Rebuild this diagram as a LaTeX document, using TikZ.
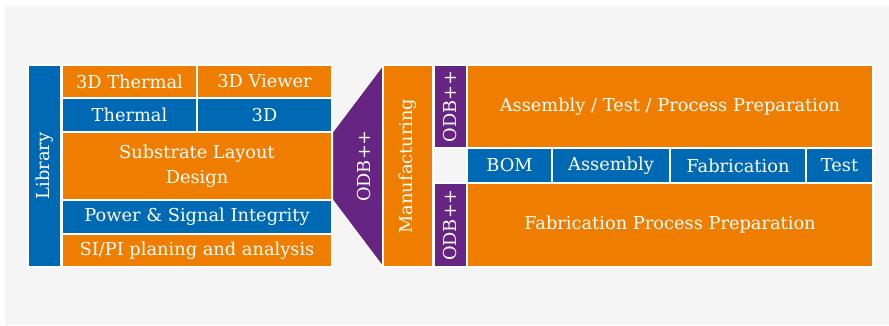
\documentclass[tikz,border=0pt]{standalone}
\usepackage{fontspec}
\setmainfont{DejaVu Serif}
\definecolor{bggray}{HTML}{F5F5F5}
\definecolor{brandorange}{HTML}{EF7D00}
\definecolor{brandblue}{HTML}{0069B4}
\definecolor{brandpurple}{HTML}{662483}
\begin{document}
\begin{tikzpicture}[x=1pt,y=-1pt,
  lbl/.style={text=white, font=\fontsize{17.8}{25}\selectfont},
  cell/.style={lbl, draw=white, line width=1.2pt, inner sep=0pt, outer sep=0pt,
    align=center, anchor=north west},
  og/.style={cell, fill=brandorange},
  bl/.style={cell, fill=brandblue},
  pu/.style={cell, fill=brandpurple},
  vlbl/.style={lbl, rotate=90}]
% canvas
\useasboundingbox (0,0) rectangle (889,325);
\fill[white] (0,0) rectangle (889,325);
\fill[bggray] (5,6) rectangle (889,325);

% library bar
\node[bl, minimum width=33pt, minimum height=202pt] (lib) at (28,65) {};
\node[vlbl] (libtxt) at (lib.center) {Library};

% design tools column
\node[og, minimum width=135pt, minimum height=33pt] (therm3d) at (62,65) {3D Thermal};
\node[og, minimum width=135pt, minimum height=33pt] (view3d) at (197,65) {3D Viewer};
\node[bl, minimum width=135pt, minimum height=34pt] (therm) at (62,98) {Thermal};
\node[bl, minimum width=135pt, minimum height=34pt] (threed) at (197,98) {3D};
\node[og, minimum width=270pt, minimum height=68pt] (subst) at (62,132) {Substrate Layout\\Design};
\node[bl, minimum width=270pt, minimum height=34pt] (psi) at (62,200) {Power \& Signal Integrity};
\node[og, minimum width=270pt, minimum height=33pt] (sipi) at (62,234) {SI/PI planing and analysis};

% ODB++ hand-off funnel
\filldraw[fill=brandpurple, draw=white, line width=1.2pt]
  (332.5,132) -- (383,65) -- (383,267) -- (332.5,200) -- cycle;
\node[vlbl] (odbmain) at (364,166) {ODB++};

% manufacturing
\node[og, minimum width=50pt, minimum height=202pt] (manu) at (383,65) {};
\node[vlbl] (manutxt) at (manu.center) {Manufacturing};

\node[pu, minimum width=33pt, minimum height=83pt] (odbtop) at (434,65) {};
\node[vlbl] (odbtoptxt) at (odbtop.center) {ODB++};
\node[pu, minimum width=33pt, minimum height=84pt] (odbbot) at (434,183) {};
\node[vlbl] (odbbottxt) at (odbbot.center) {ODB++};

\node[og, minimum width=406pt, minimum height=83pt] (asm) at (467,65) {Assembly / Test / Process Preparation};
\node[bl, minimum width=85pt, minimum height=35pt] (bom) at (467,148) {BOM};
\node[bl, minimum width=118pt, minimum height=35pt] (assy) at (552,148) {Assembly};
\node[bl, minimum width=136pt, minimum height=35pt] (fab) at (670,148) {Fabrication};
\node[bl, minimum width=67pt, minimum height=35pt] (test) at (806,148) {Test};
\node[og, minimum width=406pt, minimum height=84pt] (fpp) at (467,183) {Fabrication Process Preparation};
\end{tikzpicture}
\end{document}
